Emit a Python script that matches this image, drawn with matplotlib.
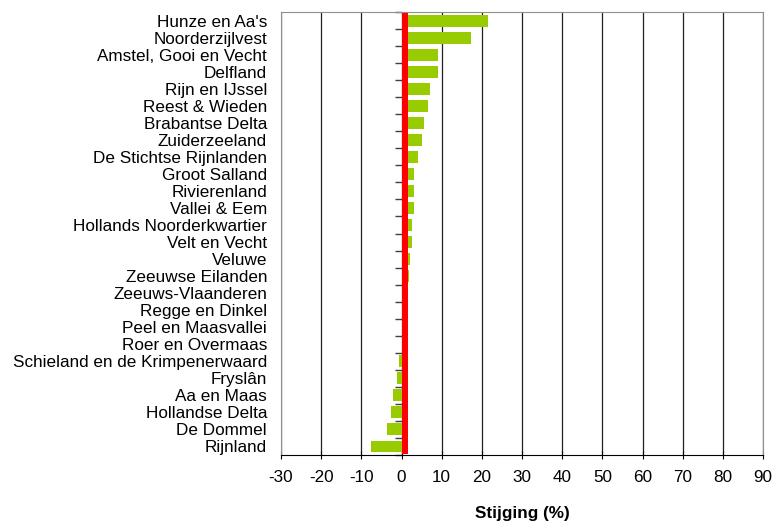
import numpy as np
import matplotlib
matplotlib.use("Agg")
import matplotlib.pyplot as plt

plt.rcParams["font.family"] = ["Liberation Sans", "DejaVu Sans"]
plt.rcParams["axes.unicode_minus"] = False

waterschappen = ["Hunze en Aa's", "Noorderzijlvest", "Amstel, Gooi en Vecht", "Delfland",
                 "Rijn en IJssel", "Reest & Wieden", "Brabantse Delta", "Zuiderzeeland",
                 "De Stichtse Rijnlanden", "Groot Salland", "Rivierenland", "Vallei & Eem",
                 "Hollands Noorderkwartier", "Velt en Vecht", "Veluwe", "Zeeuwse Eilanden",
                 "Zeeuws-Vlaanderen", "Regge en Dinkel", "Peel en Maasvallei", "Roer en Overmaas",
                 "Schieland en de Krimpenerwaard", "Fryslân", "Aa en Maas", "Hollandse Delta",
                 "De Dommel", "Rijnland"]
stijging = [21.6, 17.4, 9.2, 9.0, 7.2, 6.5, 5.7, 5.2, 4.2, 3.2, 3.2, 3.0, 2.5, 2.5, 2.0, 1.8,
            1.0, 0.8, 0.5, 0.3, -0.7, -1.2, -2.0, -2.7, -3.5, -7.5]

fig = plt.figure(figsize=(7.74, 5.23), dpi=100)
ax = fig.add_axes([0.363, 0.13, 0.623, 0.847])

yy = np.arange(len(waterschappen))
ax.barh(yy, stijging, height=0.7, color="#99cc00", zorder=3)
# rode nullijn
ax.plot([0.75, 0.75], [-0.45, len(waterschappen) - 0.55], color="#ff0000", lw=4.3,
        solid_capstyle="butt", zorder=4)

ax.set_xlim(-30, 90)
ax.set_ylim(len(waterschappen) - 0.5, -0.5)
ax.set_xticks(np.arange(-30, 91, 10))
ax.set_yticks(yy)
ax.set_yticklabels(waterschappen)
ax.tick_params(axis="y", length=0, pad=10, labelsize=12.3)
ax.tick_params(axis="x", direction="inout", length=6, labelsize=12.3, pad=8)
ax.xaxis.grid(True, color="#202020", lw=0.9, zorder=1)

for s in ["top", "right", "left"]:
    ax.spines[s].set_color("#909090")
ax.spines["bottom"].set_color("black")

# y-as bij x = 0 met streepjes tussen de categorieen
yas = ax.secondary_yaxis(0.25)
yas.set_yticks(np.arange(len(waterschappen) + 1) - 0.5)
yas.set_yticklabels([])
yas.tick_params(length=5, width=1, color="#404040")
yas.spines["left"].set_visible(False)

ax.set_xlabel("Stijging (%)", fontsize=12.3, fontweight="bold", labelpad=15)

plt.savefig("out.png", dpi=100)
